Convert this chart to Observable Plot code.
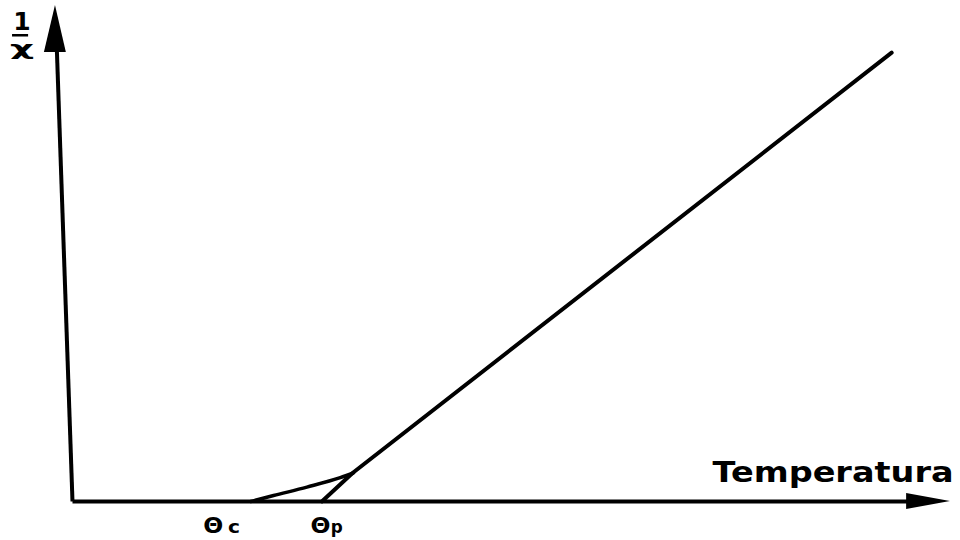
<!DOCTYPE html>
<html>
<head>
<meta charset="utf-8">
<script src="https://cdn.jsdelivr.net/npm/d3@7"></script>
<script src="https://cdn.jsdelivr.net/npm/@observablehq/plot@0.6"></script>
<style>
  html, body { margin: 0; padding: 0; background: #fff; }
  #chart svg { display: block; }
</style>
</head>
<body>
<div id="chart"></div>
<script>
// Paramagnetic (Curie–Weiss) straight line: temperature vs 1/χ (arbitrary units)
const lineT = [28.4, 31.9, 93.3];
const lineInvChi = [0, 5.75, 90.5];
// Real curve bending down to θc
const curveT = [20.3, 22.9, 26.7, 30.5, 32.0];
const curveInvChi = [0, 1.2, 2.9, 4.8, 5.75];

// Axis extents (arbitrary units)
const xAxisEnd = 100;
const yAxisEnd = 100;

// Labels
const thetaMain = ["Θ", "Θ"];
const thetaSub = ["c", "p"];
const thetaMainX = [14.9, 27.1];
const thetaSubX = [17.7, 29.4];
const thetaBaseline = -6.45;
const xTitle = "Temperatura";
const xTitlePos = [72.9, 4.0];
const yNumerator = "1";
const yDenominator = "χ";
const yTitleX = -5.75;
const yNumY = 95.0;
const yDenY = 90.1;
const yBarX = [-6.83, -5.0];
const yBarY = 94.0;

const ink = "#000";
const mainLine = lineT.map((t, i) => ({T: t, v: lineInvChi[i]}));
const curveLine = curveT.map((t, i) => ({T: t, v: curveInvChi[i]}));
const thetaData = thetaMain.map((s, i) => ({s, sub: thetaSub[i], x: thetaMainX[i], xs: thetaSubX[i]}));

const plot = Plot.plot({
  width: 960,
  height: 540,
  margin: 0,
  x: {type: "linear", domain: [0, xAxisEnd], range: [72, 950], axis: null},
  y: {type: "linear", domain: [0, yAxisEnd], range: [501, 5], axis: null},
  style: {background: "#fff", fontFamily: "'DejaVu Sans', sans-serif", color: ink},
  marks: [
    // x axis with arrow
    Plot.line([[0, 0], [xAxisEnd * 0.96, 0]], {stroke: ink, strokeWidth: 4, strokeLinecap: "butt"}),
    Plot.areaY([{x: xAxisEnd * 0.95, y1: -1.6, y2: 1.6}, {x: xAxisEnd, y1: 0, y2: 0}], {x: "x", y1: "y1", y2: "y2", fill: ink}),
    // y axis with arrow (slightly tilted like the scan)
    Plot.line([[0, 0], [-1.8, yAxisEnd * 0.92]], {stroke: ink, strokeWidth: 4, strokeLinecap: "butt"}),
    Plot.areaX([{y: yAxisEnd * 0.905, x1: -3.2, x2: -0.7}, {y: yAxisEnd, x1: -1.94, x2: -1.94}], {y: "y", x1: "x1", x2: "x2", fill: ink}),
    // curves
    Plot.line(curveLine, {x: "T", y: "v", curve: "monotone-x", stroke: ink, strokeWidth: 3.5}),
    Plot.line(mainLine, {x: "T", y: "v", stroke: ink, strokeWidth: 4}),
    // theta labels
    Plot.text(thetaData, {x: "x", y: () => thetaBaseline, text: "s", textAnchor: "start", lineAnchor: "bottom", fontSize: 22, fontWeight: "bold", fill: ink}),
    Plot.text(thetaData, {x: "xs", y: () => thetaBaseline, text: "sub", textAnchor: "start", lineAnchor: "bottom", fontSize: 17, fontWeight: "bold", fill: ink}),
    // x title
    Plot.text([xTitle], {x: () => xTitlePos[0], y: () => xTitlePos[1], text: d => d, textAnchor: "start", lineAnchor: "bottom", fontSize: 28, fontWeight: "bold", fill: ink}),
    // y title: fraction 1/χ
    Plot.text([yNumerator], {x: () => yTitleX, y: () => yNumY, text: d => d, textAnchor: "middle", lineAnchor: "bottom", fontSize: 25, fontWeight: "bold", fill: ink}),
    Plot.ruleY([yBarY], {x1: yBarX[0], x2: yBarX[1], stroke: ink, strokeWidth: 2.5}),
    Plot.text([yDenominator], {x: () => yTitleX, y: () => yDenY, text: d => d, textAnchor: "middle", lineAnchor: "bottom", fontSize: 19, fontWeight: "bold", fill: ink})
  ]
});

// stretch wide bold lettering like the original
plot.querySelectorAll("text").forEach(t => {
  const s = t.textContent;
  let len = null;
  if (s === xTitle) len = 241;
  else if (s === yDenominator) len = 24;
  else if (s === "Θ") len = 20;
  else if (thetaSub.includes(s)) len = 12;
  if (len) { t.setAttribute("textLength", len); t.setAttribute("lengthAdjust", "spacingAndGlyphs"); }
});

document.getElementById("chart").appendChild(plot);
</script>
</body>
</html>
